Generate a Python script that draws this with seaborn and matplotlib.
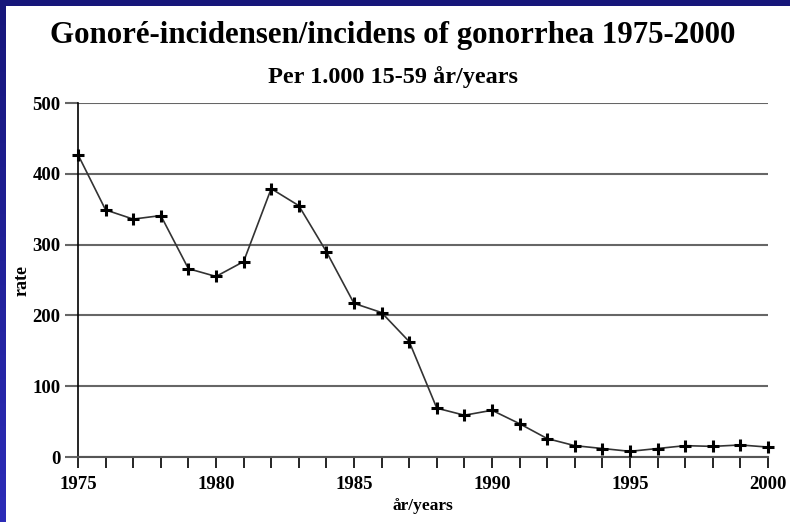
import numpy as np
import pandas as pd
import matplotlib.pyplot as plt
import seaborn as sns
from matplotlib.colors import LinearSegmentedColormap

# values
years = list(range(1975, 2001))
rates = [427, 349, 336, 341, 266, 255, 276, 379, 355, 290,
         217, 204, 163, 69, 59, 66, 47, 26, 16, 12,
         8, 12, 16, 15, 17, 14]
y_ticks = [0, 100, 200, 300, 400, 500]
x_ticks = [1975, 1980, 1985, 1990, 1995, 2000]

df = pd.DataFrame({'year': years, 'rate': rates})

sns.set_style('white')
plt.rcParams['font.family'] = ['Liberation Serif', 'DejaVu Serif']
plt.rcParams['font.weight'] = 'bold'
plt.rcParams['text.color'] = 'black'
plt.rcParams['axes.labelcolor'] = 'black'

fig = plt.figure(figsize=(7.9, 5.22), dpi=100)

# slide border (blue strips on left and top)
grad = np.linspace(0, 1, 256).reshape(-1, 1)
cmap = LinearSegmentedColormap.from_list('slide', ['#16167a', '#2c2cb8'])
left = fig.add_axes([0, 0, 6 / 790, 1])
left.imshow(grad, aspect='auto', cmap=cmap)
left.axis('off')
top = fig.add_axes([0, 1 - 6 / 522, 1, 6 / 522])
top.set_facecolor('#16167a')
top.set_xticks([])
top.set_yticks([])
for s in top.spines.values():
    s.set_visible(False)

ax = fig.add_axes([78 / 790, 1 - 457 / 522, 690 / 790, 354 / 522])
sns.lineplot(data=df, x='year', y='rate', ax=ax, color='#333333', linewidth=1.2,
             marker='+', markersize=9, markeredgewidth=2.2,
             markeredgecolor='black', zorder=3, clip_on=False)

ax.set_xlim(1975, 2000)
ax.set_ylim(0, 500)
ax.set_yticks(y_ticks)
ax.set_xticks(years, minor=True)
ax.set_xticks(x_ticks)
ax.yaxis.grid(True, color='#666666', linewidth=1.5)
ax.set_axisbelow(True)

for side in ['top', 'right']:
    ax.spines[side].set_visible(False)
ax.spines['left'].set_color('black')
ax.spines['left'].set_linewidth(1.2)
ax.spines['bottom'].set_color('#555555')
ax.spines['bottom'].set_linewidth(1.5)

ax.tick_params(axis='y', which='major', left=True, direction='out', length=9.5,
               width=1.5, color='#666666', labelcolor='black', pad=3, labelsize=13.5)
ax.tick_params(axis='x', which='both', bottom=True, direction='out', length=8,
               width=1.2, color='black', labelcolor='black', pad=6, labelsize=13.5)
ax.tick_params(axis='x', which='minor', labelbottom=False)
for lab in ax.get_xticklabels() + ax.get_yticklabels():
    lab.set_fontweight('bold')

ax.set_xlabel('år/years', fontsize=12.5, fontweight='bold', labelpad=3)
ax.set_ylabel('rate', fontsize=13, fontweight='bold', labelpad=1.5)

fig.text(0.497, 1 - 43 / 522, 'Gonoré-incidensen/incidens of gonorrhea 1975-2000',
         ha='center', va='baseline', fontsize=22.2, fontweight='bold')
fig.text(0.497, 1 - 83 / 522, 'Per 1.000 15-59 år/years',
         ha='center', va='baseline', fontsize=17.5, fontweight='bold')

fig.savefig('out.png', dpi=100, facecolor='white')
